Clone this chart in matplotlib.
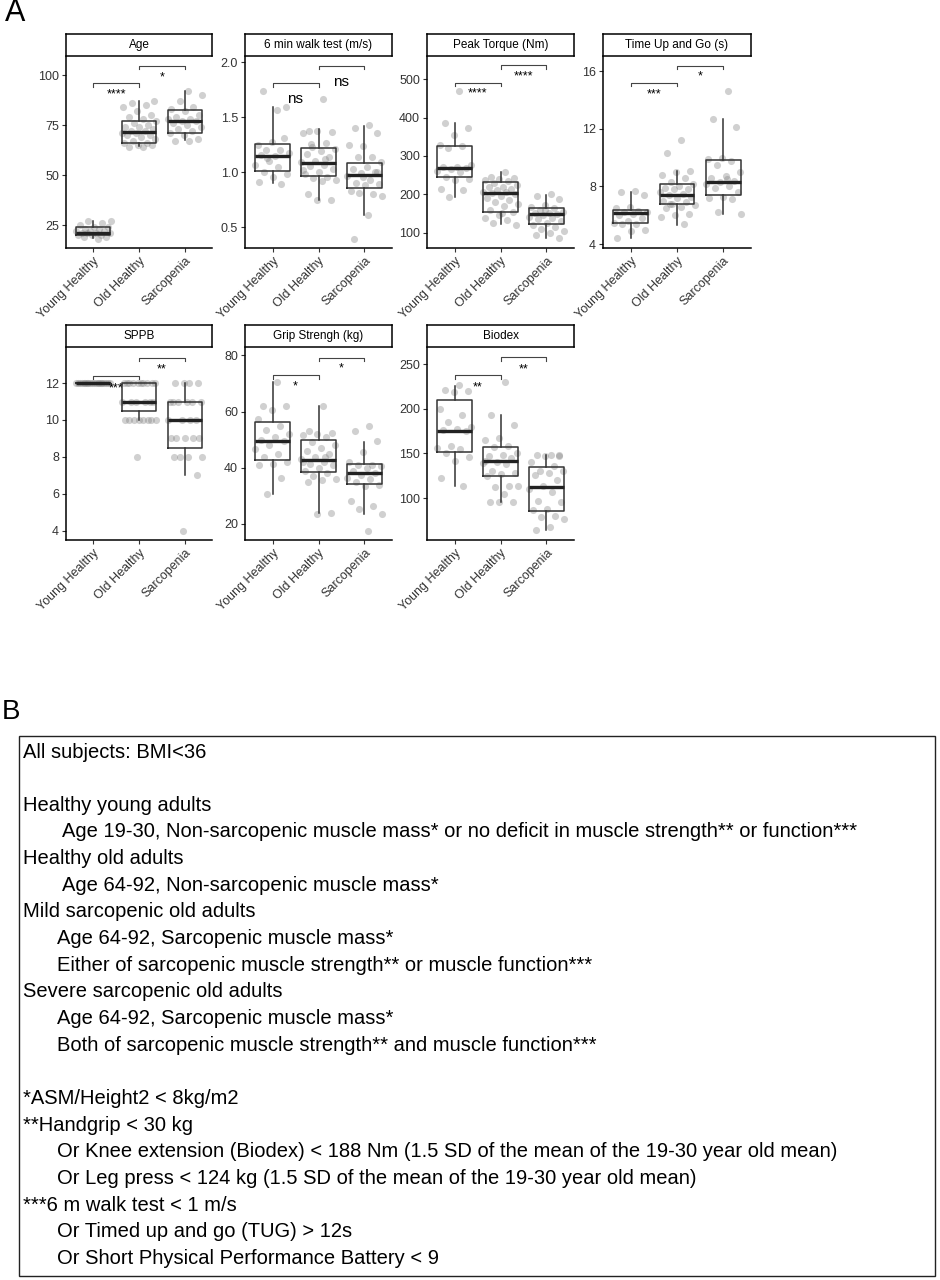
import numpy as np
import matplotlib.pyplot as plt
from matplotlib.patches import Rectangle

W, H = 940, 1280   # figure size in pixels

groups = ["Young Healthy", "Old Healthy", "Sarcopenia"]

# ---- Age
age_young = [18, 19, 19, 20, 20, 20, 21, 21, 21, 21, 22, 22, 22, 23, 23, 24, 24, 25, 26, 27, 27]
age_old = [64, 64, 65, 65, 66, 66, 67, 68, 69, 70, 70, 71, 71, 72, 72, 73, 74, 74, 75, 76,
           77, 78, 79, 80, 82, 84, 85, 86, 87]
age_sarc = [67, 67, 68, 70, 71, 72, 73, 74, 75, 76, 77, 77, 78, 78, 79, 80, 82, 83, 84, 87, 90, 92]
# whisker low, q1, median, q3, whisker high
age_box = [(18.5, 19.8, 21.2, 24.2, 27), (64.5, 66.2, 71.3, 77.2, 87), (67.5, 70.8, 77.2, 82.3, 92)]
age_sig = ["****", "*"]
age_brk = [95.8, 104.6]
age_lab = [90.3, 98.8]

# ---- 6 min walk test
walk_young = [1.57, 1.74, 1.59, 1.28, 1.25, 1.20, 1.20, 1.18, 1.15, 1.16, 1.31, 1.10, 1.07,
              1.05, 1.00, 0.98, 0.96, 0.91, 0.89, 1.13]
walk_old = [1.67, 1.38, 1.37, 1.38, 1.36, 1.27, 1.23, 1.21, 1.19, 1.17, 1.14, 1.10, 1.09, 1.07,
            1.06, 1.03, 1.00, 0.98, 0.96, 0.95, 0.93, 0.92, 0.80, 0.75, 0.75, 1.02, 1.12, 1.26]
walk_sarc = [1.43, 1.40, 1.36, 1.24, 1.25, 1.14, 1.14, 1.09, 1.05, 1.03, 1.00, 0.99, 0.97, 0.93,
             0.90, 0.89, 0.88, 0.83, 0.80, 0.81, 0.78, 0.61, 0.39, 1.00, 0.96]
walk_box = [(0.90, 1.015, 1.148, 1.257, 1.59), (0.748, 0.966, 1.08, 1.218, 1.39),
            (0.61, 0.857, 0.976, 1.087, 1.42)]
walk_sig = ["ns", "ns"]
walk_brk = [1.809, 1.969]
walk_lab = [1.67, 1.82]

# ---- Peak torque
torque_young = [470, 387, 372, 355, 328, 325, 320, 276, 272, 270, 268, 266, 262, 258, 246, 240,
                238, 215, 210, 193]
torque_old = [258, 245, 243, 240, 238, 235, 230, 225, 220, 218, 215, 210, 207, 205, 203, 200,
              195, 190, 185, 180, 175, 170, 160, 155, 145, 138, 132, 125, 120, 150]
torque_sarc = [200, 195, 188, 172, 168, 165, 160, 155, 152, 150, 148, 145, 140, 138, 135, 130,
               125, 120, 115, 110, 105, 100, 95, 85, 160]
torque_box = [(194, 246, 268, 327, 387), (122, 155, 203, 233, 257), (85, 123, 149, 165, 198)]
torque_sig = ["****", "****"]
torque_brk = [490, 536]
torque_lab = [462, 507]

# ---- Time up and go
tug_young = [7.7, 7.6, 7.4, 6.6, 6.5, 6.3, 6.2, 6.2, 6.1, 6.0, 5.8, 5.6, 5.5, 5.4, 5.4, 5.0,
             4.9, 4.4]
tug_old = [11.2, 10.3, 9.1, 9.0, 8.8, 8.6, 8.3, 8.2, 8.0, 7.9, 7.8, 7.8, 7.6, 7.5, 7.4, 7.3,
           7.2, 7.0, 6.9, 6.8, 6.7, 6.6, 6.5, 6.1, 6.0, 5.9, 5.4, 6.8]
tug_sarc = [14.6, 12.7, 12.1, 10.0, 9.9, 9.8, 9.5, 9.0, 8.7, 8.6, 8.4, 8.3, 8.2, 8.0, 7.9, 7.6,
            7.3, 7.2, 7.1, 6.2, 6.1, 8.5]
tug_box = [(4.42, 5.46, 6.16, 6.38, 7.65), (5.35, 6.8, 7.38, 8.19, 9.1), (6.1, 7.4, 8.28, 9.85, 12.67)]
tug_sig = ["***", "*"]
tug_brk = [15.17, 16.38]
tug_lab = [14.4, 15.6]

# ---- SPPB
sppb_young = [12] * 20
sppb_old = [12] * 10 + [11] * 6 + [10] * 8 + [8]
sppb_sarc = [12] * 4 + [11] * 6 + [10] * 4 + [9] * 5 + [8] * 4 + [7, 4]
sppb_box = [(12, 12, 12, 12, 12), (10, 10.5, 11, 12, 12), (7, 8.5, 10, 11, 12)]
sppb_sig = ["***", "**"]
sppb_brk = [12.38, 13.35]
sppb_lab = [11.73, 12.72]

# ---- Grip strength
grip_young = [70.5, 62, 62, 60.5, 57.5, 55, 53.5, 52, 51, 50, 49.5, 48, 46.5, 45, 44, 42, 41.5,
              41, 36.5, 30.5]
grip_old = [62, 53, 52.5, 52, 51.5, 51, 49, 48, 47, 46, 45, 44, 43, 42, 41.5, 41, 40, 39, 38,
            37, 36, 35.5, 35, 24, 23.5, 42, 44]
grip_sarc = [55, 53, 49.5, 45.5, 42, 41, 41, 40.5, 40, 39, 38, 37.5, 36.5, 36, 35, 34, 33.5,
             28, 26.5, 25.5, 23.5, 17.5]
grip_box = [(30.7, 42.7, 49.6, 56.4, 70.5), (23.9, 38.6, 42.7, 49.7, 62), (23.5, 34.3, 38.3, 41.4, 49.1)]
grip_sig = ["*", "*"]
grip_brk = [72.9, 79.2]
grip_lab = [69.0, 75.2]

# ---- Biodex
biodex_young = [227, 221, 220, 219, 200, 193, 185, 180, 177, 176, 175, 158, 156, 155, 150, 146,
                142, 122, 113]
biodex_old = [230, 193, 182, 167, 165, 158, 157, 150, 148, 147, 145, 140, 139, 138, 130, 128,
              127, 125, 113, 112, 113, 104, 96, 95, 95, 142]
biodex_sarc = [148, 148, 148, 147, 140, 136, 130, 130, 128, 126, 120, 113, 110, 107, 97, 95, 88,
               87, 80, 79, 77, 68, 64, 147]
biodex_box = [(113, 151, 175.4, 210, 225.8), (95, 125, 142, 157.5, 192.5), (64, 86, 112.4, 134.8, 148)]
biodex_sig = ["**", "**"]
biodex_brk = [237.3, 257.4]
biodex_lab = [224.3, 244.4]

# ---- Panel B text
criteria_lines = [
    "All subjects: BMI<36",
    "",
    "Healthy young adults",
    "Age 19-30, Non-sarcopenic muscle mass* or no deficit in muscle strength** or function***",
    "Healthy old adults",
    "Age 64-92, Non-sarcopenic muscle mass*",
    "Mild sarcopenic old adults",
    "Age 64-92, Sarcopenic muscle mass*",
    "Either of sarcopenic muscle strength** or muscle function***",
    "Severe sarcopenic old adults",
    "Age 64-92, Sarcopenic muscle mass*",
    "Both of sarcopenic muscle strength** and muscle function***",
    "",
    "*ASM/Height2 < 8kg/m2",
    "**Handgrip < 30 kg",
    "Or Knee extension (Biodex) < 188 Nm (1.5 SD of the mean of the 19-30 year old mean)",
    "Or Leg press < 124 kg (1.5 SD of the mean of the 19-30 year old mean)",
    "***6 m walk test < 1 m/s",
    "Or Timed up and go (TUG) > 12s",
    "Or Short Physical Performance Battery < 9",
]
criteria_indent = [0, 0, 0, 2, 0, 2, 0, 1, 1, 0, 1, 1, 0, 0, 0, 1, 1, 0, 1, 1]

fig = plt.figure(figsize=(W / 100, H / 100), dpi=100)
plt.rcParams['font.family'] = ['Liberation Sans', 'DejaVu Sans']


def panel(l, t, r, b, title, pts, boxes, ylim, yticks, sig, brk, lab, labsize):
    ax = fig.add_axes([l / W, 1 - b / H, (r - l) / W, (b - t) / H])
    for i, vals in enumerate(pts):
        n = len(vals)
        # deterministic jitter
        off = (((np.arange(n) + 1) * 0.618034) % 1 - 0.5) * 0.8
        ax.scatter(i + 1 + off, vals, s=26, color='#7a7a7a', alpha=0.35, lw=0, zorder=1)
    stats = [dict(whislo=s[0], q1=s[1], med=s[2], q3=s[3], whishi=s[4]) for s in boxes]
    ax.bxp(stats, positions=[1, 2, 3], widths=0.75, showfliers=False, showcaps=False,
           boxprops=dict(color='#333333', lw=1.1),
           whiskerprops=dict(color='#333333', lw=1.1),
           medianprops=dict(color='#222222', lw=2.4))
    span = ylim[1] - ylim[0]
    for k, (x0, x1) in enumerate([(1, 2), (2, 3)]):
        y = brk[k]
        tk = 0.017 * span
        ax.plot([x0, x0, x1, x1], [y - tk, y, y, y - tk], color='#444444', lw=0.8)
        ax.text((x0 + x1) / 2, lab[k], sig[k], ha='center', va='center',
                fontsize=labsize, color='black')
    ax.set_xlim(0.4, 3.6)
    ax.set_ylim(*ylim)
    ax.set_yticks(yticks)
    ax.set_xticks([1, 2, 3])
    ax.set_xticklabels(groups, rotation=45, ha='right', va='top', rotation_mode='anchor')
    ax.tick_params(labelsize=9, labelcolor='#333333', color='#333333', length=3, width=0.8, pad=2)
    for s in ['top', 'right']:
        ax.spines[s].set_visible(False)
    for s in ['left', 'bottom']:
        ax.spines[s].set_linewidth(1.1)
    # facet strip
    st = fig.add_axes([l / W, 1 - (t - 1) / H, (r - l) / W, 22 / H])
    st.set_xticks([])
    st.set_yticks([])
    for s in st.spines.values():
        s.set_linewidth(1.1)
    st.text(0.5, 0.5, title, ha='center', va='center', fontsize=8.5, transform=st.transAxes)
    return ax


panel(66, 57, 212, 248, "Age", [age_young, age_old, age_sarc], age_box,
      (13.5, 109), [25, 50, 75, 100], age_sig, age_brk, age_lab, 9)
panel(245, 57, 392, 248, "6 min walk test (m/s)", [walk_young, walk_old, walk_sarc], walk_box,
      (0.31, 2.05), [0.5, 1.0, 1.5, 2.0], walk_sig, walk_brk, walk_lab, 11)
panel(427, 57, 574, 248, "Peak Torque (Nm)", [torque_young, torque_old, torque_sarc], torque_box,
      (60, 558), [100, 200, 300, 400, 500], torque_sig, torque_brk, torque_lab, 9)
panel(603, 57, 751, 248, "Time Up and Go (s)", [tug_young, tug_old, tug_sarc], tug_box,
      (3.74, 16.97), [4, 8, 12, 16], tug_sig, tug_brk, tug_lab, 9)
panel(66, 348, 212, 540, "SPPB", [sppb_young, sppb_old, sppb_sarc], sppb_box,
      (3.5, 13.9), [4, 6, 8, 10, 12], sppb_sig, sppb_brk, sppb_lab, 9)
panel(245, 348, 392, 540, "Grip Strengh (kg)", [grip_young, grip_old, grip_sarc], grip_box,
      (14.3, 82.6), [20, 40, 60, 80], grip_sig, grip_brk, grip_lab, 9)
panel(427, 348, 574, 540, "Biodex", [biodex_young, biodex_old, biodex_sarc], biodex_box,
      (53, 268), [100, 150, 200, 250], biodex_sig, biodex_brk, biodex_lab, 9)

# panel letters
fig.text(5 / W, 1 - 13 / H, "A", fontsize=22, ha='left', va='center')
fig.text(2 / W, 1 - 712 / H, "B", fontsize=20, ha='left', va='center')

# criteria box
fig.patches.append(Rectangle((19 / W, 1 - 1276 / H), (935 - 19) / W, (1276 - 736) / H,
                             transform=fig.transFigure, fill=False, edgecolor='#222222', lw=1.0))
indent_px = [23, 57, 62]
for i, (line, ind) in enumerate(zip(criteria_lines, criteria_indent)):
    y = 752 + i * 26.65
    fig.text(indent_px[ind] / W, 1 - y / H, line, fontsize=14.5, ha='left', va='center')

fig.savefig("out.png", dpi=100)
